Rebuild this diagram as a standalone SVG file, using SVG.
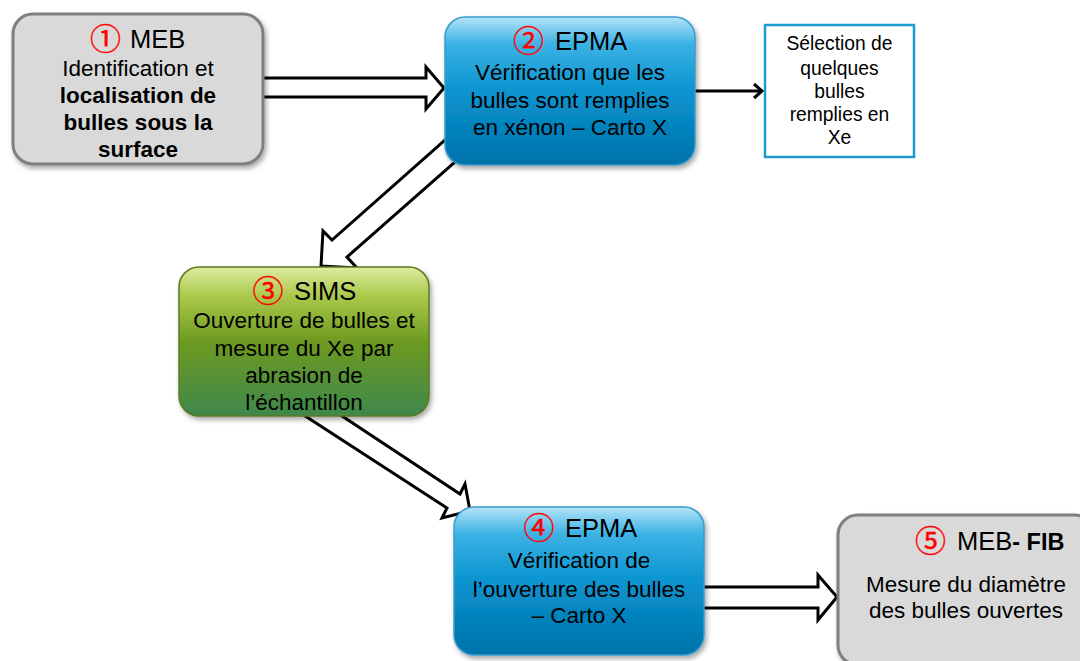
<svg xmlns="http://www.w3.org/2000/svg" width="1080" height="661" viewBox="0 0 1080 661">
<defs>
  <linearGradient id="gBlue" x1="0" y1="0" x2="0" y2="1">
    <stop offset="0" stop-color="#b5e4f8"/>
    <stop offset="0.18" stop-color="#3cb2e5"/>
    <stop offset="0.5" stop-color="#0a94cf"/>
    <stop offset="1" stop-color="#0072aa"/>
  </linearGradient>
  <linearGradient id="gGreen" x1="0" y1="0" x2="0" y2="1">
    <stop offset="0" stop-color="#dcec9f"/>
    <stop offset="0.2" stop-color="#a9c84a"/>
    <stop offset="0.5" stop-color="#6e9a20"/>
    <stop offset="1" stop-color="#3f884c"/>
  </linearGradient>
  <filter id="sh" x="-10%" y="-10%" width="125%" height="130%">
    <feDropShadow dx="2" dy="3" stdDeviation="2.5" flood-color="#000" flood-opacity="0.35"/>
  </filter>
</defs>
<style>
  .t { font-family: "Liberation Sans", Arial, sans-serif; font-size: 22.5px; fill: #000; text-anchor: middle; }
  .b { font-weight: bold; }
  .ttl { font-family: "Liberation Sans", Arial, sans-serif; font-size: 25.5px; fill: #000; }
  .num { font-family: "Noto Sans CJK JP", "DejaVu Sans", sans-serif; font-size: 31px; fill: #ff0000; text-anchor: middle; stroke: #ff0000; stroke-width: 0.4; }
  .sel { font-family: "Liberation Sans", Arial, sans-serif; font-size: 19.3px; fill: #000; text-anchor: middle; }
  .gray { fill: #d9d9d9; stroke: #7f7f7f; stroke-width: 3; }
  .blue { fill: url(#gBlue); stroke: #3a9ccc; stroke-width: 1.5; }
  .green { fill: url(#gGreen); stroke: #5b7a1f; stroke-width: 1.5; }
  .blk { fill: #fff; stroke: #000; stroke-width: 3; stroke-linejoin: miter; }
</style>

<g id="connectors">
  <polygon class="blk" points="255,78 426,78 426,67 444,88 426,109 426,97 255,97"/>
  <line x1="695" y1="91" x2="762" y2="91" stroke="#000" stroke-width="3"/>
  <polyline points="754,84 762,91 754,98" fill="none" stroke="#000" stroke-width="3"/>
  <polygon class="blk" points="452.5,133.4 332,240 323,231 321,266 357,268 347,257 462.5,155.4"/>
  <polygon class="blk" points="296.7,410.4 447,508 442,518 470,511 465,484 460,494 333.7,410.4"/>
  <polygon class="blk" points="700,587 818,587 818,575 837,597 818,620 818,608 700,608"/>
</g>

<g id="n1">
  <rect class="gray" x="13" y="14" width="250" height="150" rx="20" filter="url(#sh)"/>
  <text class="num" x="105.5" y="50">①</text>
  <text class="ttl" x="130" y="48">MEB</text>
  <text class="t" x="138" y="76">Identification et</text>
  <text class="t b" x="138" y="103">localisation de</text>
  <text class="t b" x="138" y="130">bulles sous la</text>
  <text class="t b" x="138" y="157">surface</text>
</g>

<g id="n2">
  <rect class="blue" x="445" y="17" width="250" height="148" rx="20" filter="url(#sh)"/>
  <text class="num" x="528.5" y="52">②</text>
  <text class="ttl" x="555" y="50">EPMA</text>
  <text class="t" x="570" y="80">Vérification que les</text>
  <text class="t" x="570" y="108">bulles sont remplies</text>
  <text class="t" x="570" y="135">en xénon  – Carto X</text>
</g>

<g id="nsel">
  <rect x="765" y="25" width="149" height="132" fill="#fff" stroke="#1e9bd0" stroke-width="2.5"/>
  <text class="sel" x="839.5" y="50">Sélection de</text>
  <text class="sel" x="839.5" y="75">quelques</text>
  <text class="sel" x="839.5" y="98">bulles</text>
  <text class="sel" x="839.5" y="121">remplies en</text>
  <text class="sel" x="839.5" y="144">Xe</text>
</g>

<g id="n3">
  <rect class="green" x="179" y="267" width="250" height="149" rx="20" filter="url(#sh)"/>
  <text class="num" x="268" y="302">③</text>
  <text class="ttl" x="294" y="300">SIMS</text>
  <text class="t" x="304" y="328">Ouverture de bulles et</text>
  <text class="t" x="304" y="356">mesure du Xe par</text>
  <text class="t" x="304" y="383">abrasion de</text>
  <text class="t" x="304" y="410">l’échantillon</text>
</g>

<g id="n4">
  <rect class="blue" x="454" y="507" width="250" height="148" rx="20" filter="url(#sh)"/>
  <text class="num" x="539" y="539">④</text>
  <text class="ttl" x="565" y="537">EPMA</text>
  <text class="t" x="579" y="568">Vérification de</text>
  <text class="t" x="579" y="597">l’ouverture des bulles</text>
  <text class="t" x="579" y="623">– Carto X</text>
</g>

<g id="n5">
  <rect class="gray" x="838" y="515" width="256" height="150" rx="20" filter="url(#sh)"/>
  <text class="num" x="930.5" y="552">⑤</text>
  <text class="ttl" x="957" y="550">MEB<tspan class="b" font-size="23.5px">- FIB</tspan></text>
  <text class="t" x="966" y="592">Mesure du diamètre</text>
  <text class="t" x="966" y="618">des bulles ouvertes</text>
</g>
</svg>
